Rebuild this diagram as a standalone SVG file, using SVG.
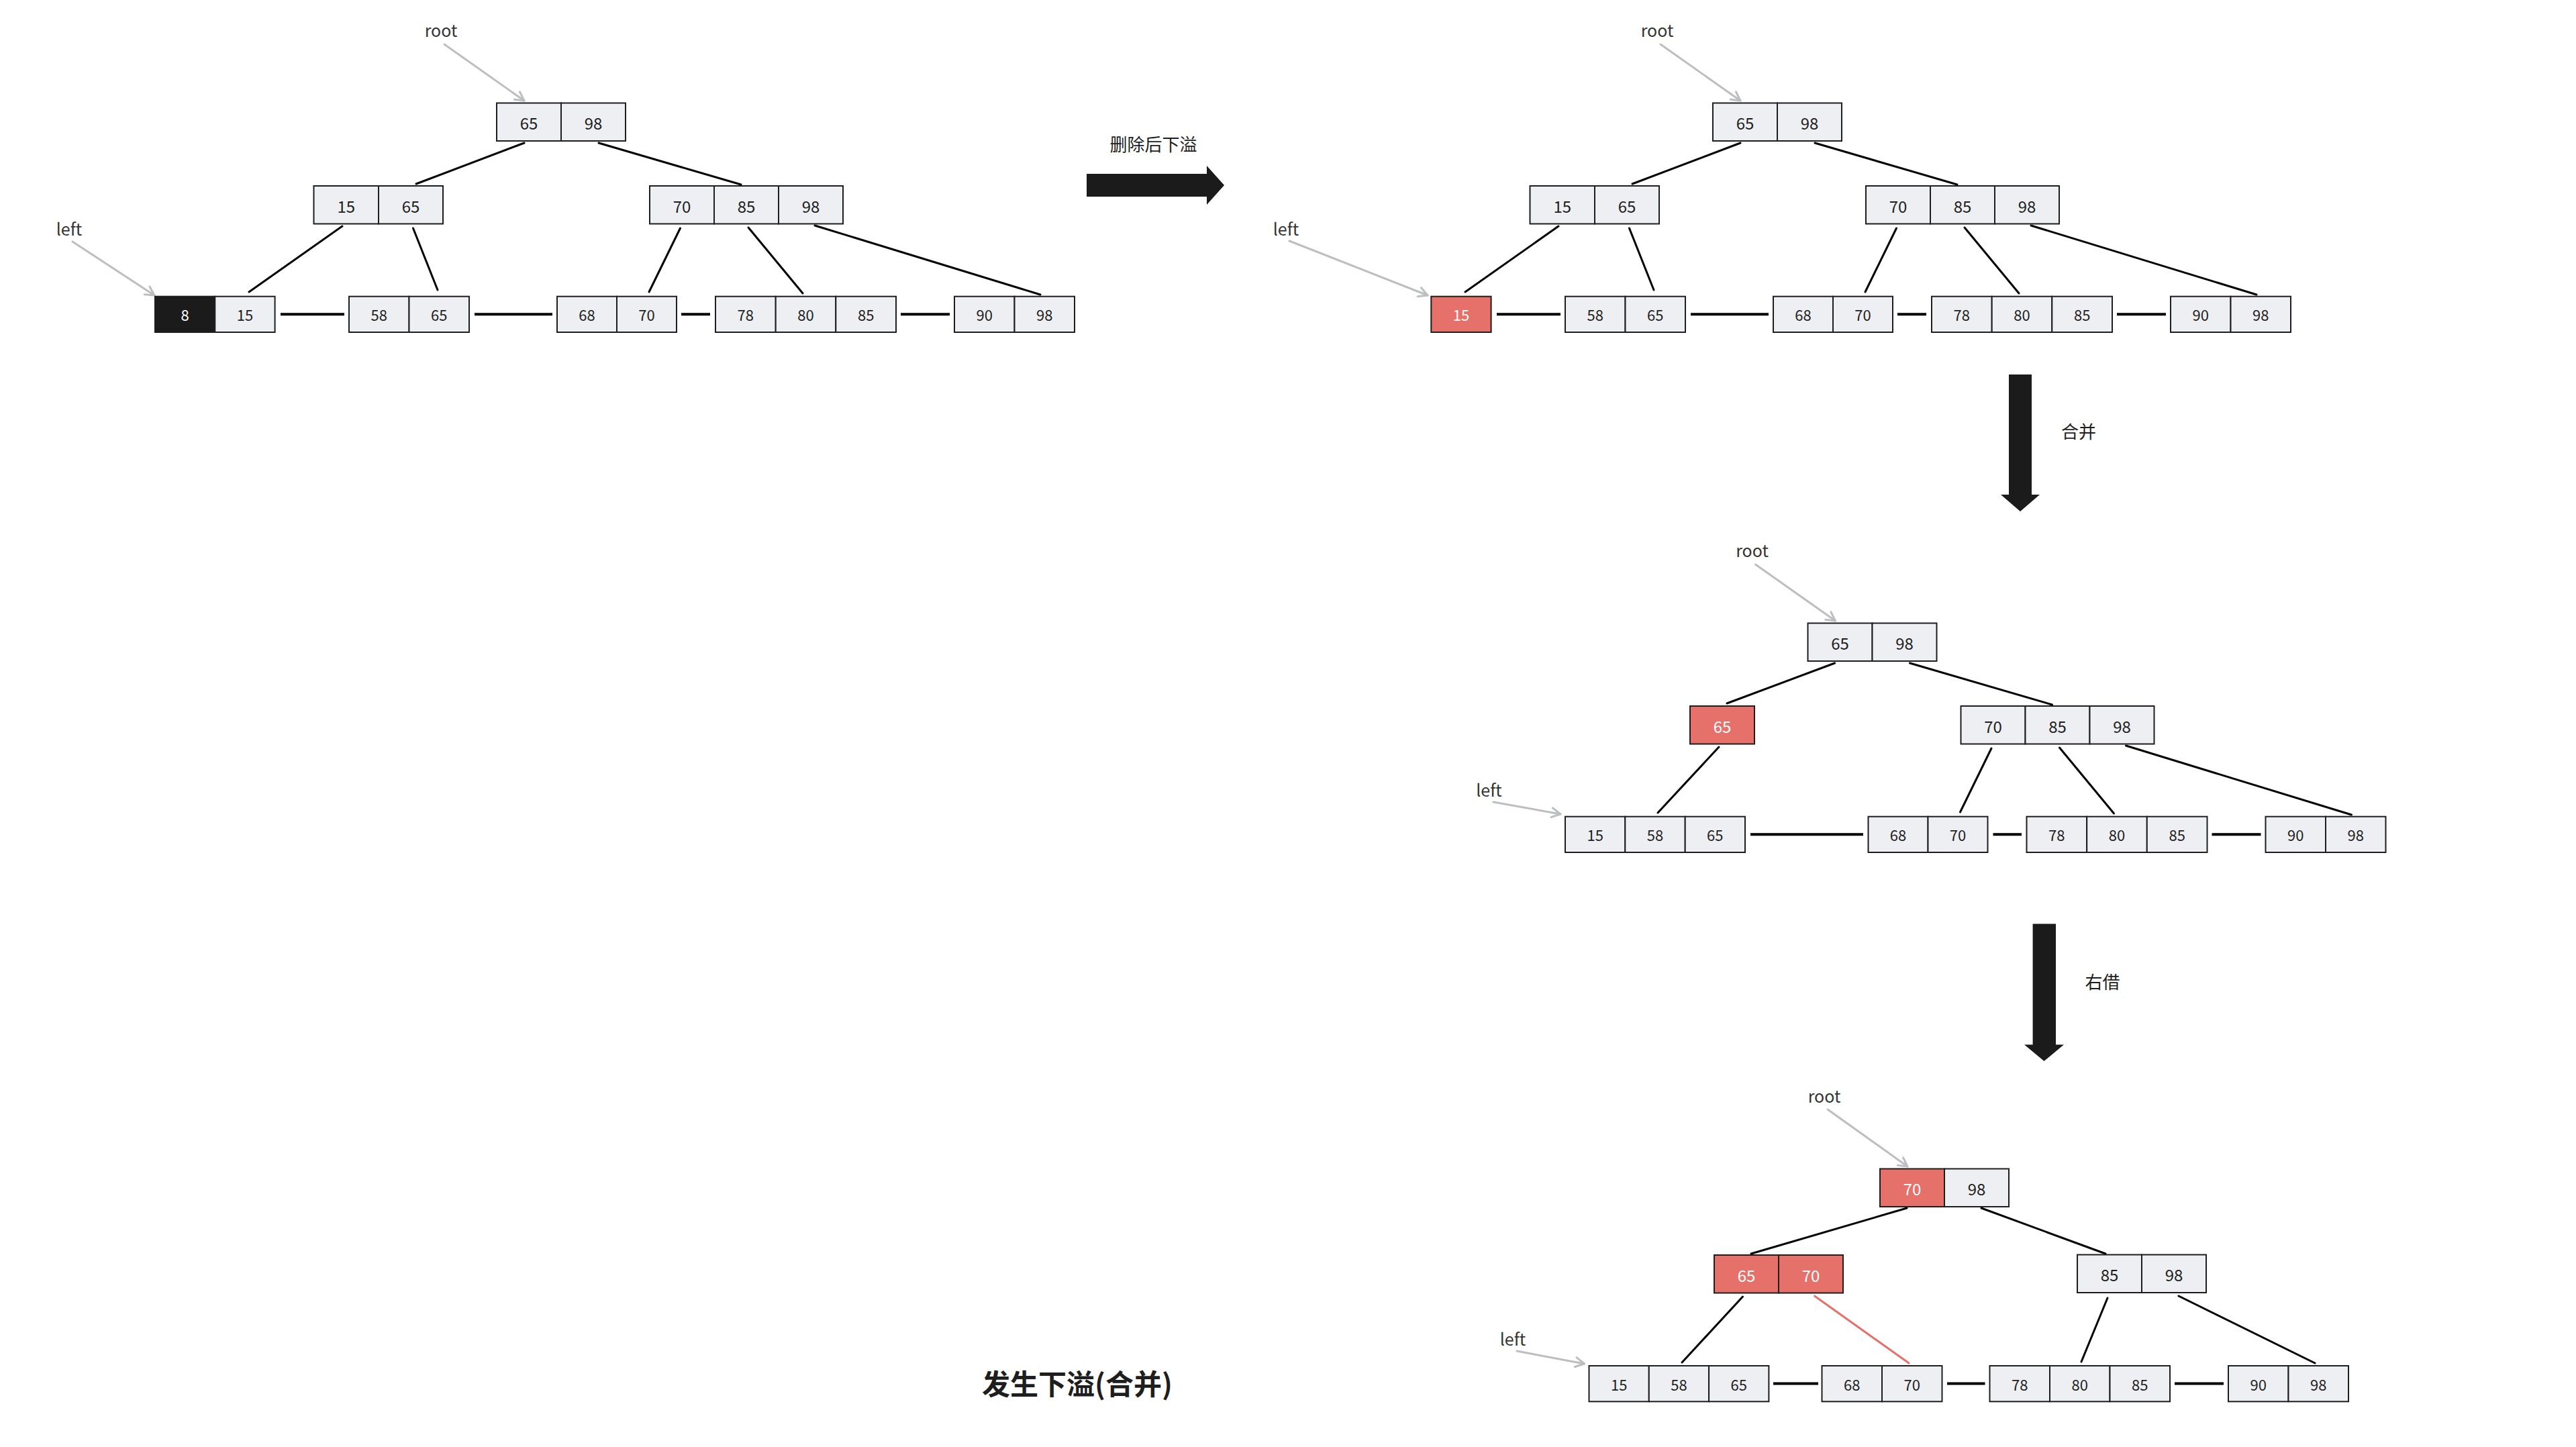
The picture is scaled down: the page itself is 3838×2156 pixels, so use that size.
<svg xmlns="http://www.w3.org/2000/svg" width="3838" height="2156" viewBox="0 0 3838 2156">
<style>
text{font-family:"Noto Sans CJK SC","Noto Sans",sans-serif;}
.c{fill:#eeeff2;stroke:#1e1e1e;stroke-width:2}
.r{fill:#e5716a;stroke:#1e1e1e;stroke-width:2}
.k{fill:#1b1b1b;stroke:#1e1e1e;stroke-width:2}
.n{font-size:24px;fill:#1e1e1e;text-anchor:middle}
.l{font-size:22px;fill:#1e1e1e;text-anchor:middle}
.w{fill:#ffffff}
.lab{font-size:25px;fill:#333333;text-anchor:middle}
.cap{font-size:26px;fill:#1e1e1e;text-anchor:middle}
.e{stroke:#000;stroke-width:3;stroke-linecap:round;fill:none}
.er{stroke:#e5716a;stroke-width:3;stroke-linecap:round;fill:none}
.ln{stroke:#000;stroke-width:4;fill:none}
.p{stroke:#bcbec1;stroke-width:3;stroke-linecap:round;fill:none;marker-end:url(#ga)}
.big{fill:#1b1b1b}
</style>
<defs>
<marker id="ga" viewBox="0 0 20 20" refX="17" refY="10" markerWidth="20" markerHeight="20" orient="auto" markerUnits="userSpaceOnUse">
<path d="M4,3 L17,10 L4,17" fill="none" stroke="#bcbec1" stroke-width="3" stroke-linecap="round" stroke-linejoin="round"/>
</marker>
</defs>
<rect width="3838" height="2156" fill="#ffffff"/>

<g id="connectors">
<!-- tree 1 -->
<line class="e" x1="781" y1="213" x2="620" y2="274"/>
<line class="e" x1="892" y1="213" x2="1104" y2="275"/>
<line class="e" x1="510" y1="337" x2="371" y2="435"/>
<line class="e" x1="615.5" y1="340" x2="652" y2="432"/>
<line class="e" x1="1013.5" y1="340" x2="967" y2="435"/>
<line class="e" x1="1115" y1="339" x2="1196" y2="437"/>
<line class="e" x1="1214" y1="336" x2="1550" y2="439"/>
<line class="ln" x1="418" y1="468.3" x2="513" y2="468.3"/>
<line class="ln" x1="707" y1="468.3" x2="823" y2="468.3"/>
<line class="ln" x1="1015" y1="468.3" x2="1058" y2="468.3"/>
<line class="ln" x1="1342" y1="468.3" x2="1415" y2="468.3"/>
<line class="p" x1="662" y1="66" x2="781" y2="150"/>
<line class="p" x1="108" y1="360" x2="230" y2="440"/>
<!-- tree 2 -->
<line class="e" x1="2593" y1="213" x2="2432" y2="274"/>
<line class="e" x1="2704" y1="213" x2="2916" y2="275"/>
<line class="e" x1="2322" y1="337" x2="2183" y2="435"/>
<line class="e" x1="2427.5" y1="340" x2="2464" y2="432"/>
<line class="e" x1="2825.5" y1="340" x2="2779" y2="435"/>
<line class="e" x1="2927" y1="339" x2="3008" y2="437"/>
<line class="e" x1="3026" y1="336" x2="3362" y2="439"/>
<line class="ln" x1="2230" y1="468.3" x2="2325" y2="468.3"/>
<line class="ln" x1="2519" y1="468.3" x2="2635" y2="468.3"/>
<line class="ln" x1="2827" y1="468.3" x2="2870" y2="468.3"/>
<line class="ln" x1="3154" y1="468.3" x2="3227" y2="468.3"/>
<line class="p" x1="2474" y1="66" x2="2593" y2="150"/>
<line class="p" x1="1921" y1="359" x2="2127" y2="440"/>
<!-- tree 3 -->
<line class="e" x1="2733.6" y1="988" x2="2573" y2="1048"/>
<line class="e" x1="2845.5" y1="988" x2="3057.5" y2="1050"/>
<line class="e" x1="2561" y1="1113" x2="2470" y2="1211"/>
<line class="e" x1="2967" y1="1115" x2="2920.5" y2="1210"/>
<line class="e" x1="3068.5" y1="1114" x2="3149.5" y2="1212"/>
<line class="e" x1="3167.5" y1="1111" x2="3503.5" y2="1214"/>
<line class="ln" x1="2608" y1="1243.3" x2="2776" y2="1243.3"/>
<line class="ln" x1="2969.5" y1="1243.3" x2="3012" y2="1243.3"/>
<line class="ln" x1="3295.5" y1="1243.3" x2="3368.5" y2="1243.3"/>
<line class="p" x1="2615.5" y1="841" x2="2734.5" y2="925"/>
<line class="p" x1="2225" y1="1195" x2="2325" y2="1213"/>
<!-- tree 4 -->
<line class="e" x1="2841" y1="1800" x2="2609" y2="1868"/>
<line class="e" x1="2952" y1="1800" x2="3137" y2="1868"/>
<line class="e" x1="2596.5" y1="1932" x2="2506" y2="2030"/>
<line class="er" x1="2703.6" y1="1931" x2="2844" y2="2031"/>
<line class="e" x1="3140" y1="1934" x2="3101" y2="2029"/>
<line class="e" x1="3246" y1="1931" x2="3449" y2="2031"/>
<line class="ln" x1="2642" y1="2061.5" x2="2709" y2="2061.5"/>
<line class="ln" x1="2901" y1="2061.5" x2="2957.5" y2="2061.5"/>
<line class="ln" x1="3240" y1="2061.5" x2="3313" y2="2061.5"/>
<line class="p" x1="2723" y1="1653" x2="2842" y2="1738"/>
<line class="p" x1="2260" y1="2013" x2="2360.5" y2="2032"/>
<!-- big step arrows -->
<polygon class="big" points="1619,259 1798,259 1798,247 1824,276 1798,305 1798,293 1619,293"/>
<polygon class="big" points="2993,558 3027,558 3027,737 3039,737 3010,762 2981,737 2993,737"/>
<polygon class="big" points="3028.6,1376.5 3063,1376.5 3063,1556.6 3075,1556.6 3045.5,1581 3016,1556.6 3028.6,1556.6"/>
</g>

<g id="labels">
<text class="lab" x="657" y="55">root</text>
<text class="lab" x="103" y="351">left</text>
<text class="lab" x="2469" y="55">root</text>
<text class="lab" x="1916" y="351">left</text>
<text class="lab" x="2610.5" y="830">root</text>
<text class="lab" x="2218.5" y="1187">left</text>
<text class="lab" x="2718" y="1643">root</text>
<text class="lab" x="2254" y="2005">left</text>
<text class="cap" x="1718.5" y="225">删除后下溢</text>
<text class="cap" x="3097" y="653">合并</text>
<text class="cap" x="3132.6" y="1473">右借</text>
<text x="1605" y="2078" font-size="42" font-weight="bold" fill="#1e1e1e" text-anchor="middle">发生下溢(合并)</text>
</g>

<!-- Tree 1 -->
<g id="t1-root">
<rect class="c" x="740" y="153.5" width="96" height="56.5"/><rect class="c" x="836" y="153.5" width="96" height="56.5"/>
<text class="n" x="788" y="193">65</text><text class="n" x="884" y="193">98</text>
</g>
<g id="t1-a">
<rect class="c" x="467.5" y="277" width="96.5" height="56.5"/><rect class="c" x="564" y="277" width="96" height="56.5"/>
<text class="n" x="515.7" y="316.5">15</text><text class="n" x="612" y="316.5">65</text>
</g>
<g id="t1-b">
<rect class="c" x="968" y="277" width="96" height="56.5"/><rect class="c" x="1064" y="277" width="96" height="56.5"/><rect class="c" x="1160" y="277" width="96" height="56.5"/>
<text class="n" x="1016" y="316.5">70</text><text class="n" x="1112" y="316.5">85</text><text class="n" x="1208" y="316.5">98</text>
</g>
<g id="t1-l1">
<rect class="k" x="231" y="441.7" width="89.3" height="53.3"/><rect class="c" x="320.3" y="441.7" width="89.3" height="53.3"/>
<text class="l w" x="275.6" y="478.4">8</text><text class="l" x="365" y="478.4">15</text>
</g>
<g id="t1-l2">
<rect class="c" x="520" y="441.7" width="89.5" height="53.3"/><rect class="c" x="609.5" y="441.7" width="89.5" height="53.3"/>
<text class="l" x="564.8" y="478.4">58</text><text class="l" x="654.3" y="478.4">65</text>
</g>
<g id="t1-l3">
<rect class="c" x="830" y="441.7" width="89" height="53.3"/><rect class="c" x="919" y="441.7" width="89" height="53.3"/>
<text class="l" x="874.5" y="478.4">68</text><text class="l" x="963.5" y="478.4">70</text>
</g>
<g id="t1-l4">
<rect class="c" x="1066" y="441.7" width="89.7" height="53.3"/><rect class="c" x="1155.7" y="441.7" width="89.6" height="53.3"/><rect class="c" x="1245.3" y="441.7" width="89.7" height="53.3"/>
<text class="l" x="1110.8" y="478.4">78</text><text class="l" x="1200.5" y="478.4">80</text><text class="l" x="1290.2" y="478.4">85</text>
</g>
<g id="t1-l5">
<rect class="c" x="1422" y="441.7" width="89.5" height="53.3"/><rect class="c" x="1511.5" y="441.7" width="89.5" height="53.3"/>
<text class="l" x="1466.8" y="478.4">90</text><text class="l" x="1556.3" y="478.4">98</text>
</g>

<!-- Tree 2 -->
<g id="t2-root">
<rect class="c" x="2552" y="153.5" width="96" height="56.5"/><rect class="c" x="2648" y="153.5" width="96" height="56.5"/>
<text class="n" x="2600" y="193">65</text><text class="n" x="2696" y="193">98</text>
</g>
<g id="t2-a">
<rect class="c" x="2279.5" y="277" width="96.5" height="56.5"/><rect class="c" x="2376" y="277" width="96" height="56.5"/>
<text class="n" x="2327.7" y="316.5">15</text><text class="n" x="2424" y="316.5">65</text>
</g>
<g id="t2-b">
<rect class="c" x="2780" y="277" width="96" height="56.5"/><rect class="c" x="2876" y="277" width="96" height="56.5"/><rect class="c" x="2972" y="277" width="96" height="56.5"/>
<text class="n" x="2828" y="316.5">70</text><text class="n" x="2924" y="316.5">85</text><text class="n" x="3020" y="316.5">98</text>
</g>
<g id="t2-l1">
<rect class="r" x="2132.3" y="441.7" width="89.3" height="53.3"/>
<text class="l w" x="2177" y="478.4">15</text>
</g>
<g id="t2-l2">
<rect class="c" x="2332" y="441.7" width="89.5" height="53.3"/><rect class="c" x="2421.5" y="441.7" width="89.5" height="53.3"/>
<text class="l" x="2376.8" y="478.4">58</text><text class="l" x="2466.3" y="478.4">65</text>
</g>
<g id="t2-l3">
<rect class="c" x="2642" y="441.7" width="89" height="53.3"/><rect class="c" x="2731" y="441.7" width="89" height="53.3"/>
<text class="l" x="2686.5" y="478.4">68</text><text class="l" x="2775.5" y="478.4">70</text>
</g>
<g id="t2-l4">
<rect class="c" x="2878" y="441.7" width="89.7" height="53.3"/><rect class="c" x="2967.7" y="441.7" width="89.6" height="53.3"/><rect class="c" x="3057.3" y="441.7" width="89.7" height="53.3"/>
<text class="l" x="2922.8" y="478.4">78</text><text class="l" x="3012.5" y="478.4">80</text><text class="l" x="3102.2" y="478.4">85</text>
</g>
<g id="t2-l5">
<rect class="c" x="3234" y="441.7" width="89.5" height="53.3"/><rect class="c" x="3323.5" y="441.7" width="89.5" height="53.3"/>
<text class="l" x="3278.8" y="478.4">90</text><text class="l" x="3368.3" y="478.4">98</text>
</g>

<!-- Tree 3 -->
<g id="t3-root">
<rect class="c" x="2693.5" y="928.5" width="96" height="56.5"/><rect class="c" x="2789.5" y="928.5" width="96" height="56.5"/>
<text class="n" x="2741.5" y="968">65</text><text class="n" x="2837.5" y="968">98</text>
</g>
<g id="t3-a">
<rect class="r" x="2518" y="1052" width="96" height="56.5"/>
<text class="n w" x="2566" y="1091.5">65</text>
</g>
<g id="t3-b">
<rect class="c" x="2921.5" y="1052" width="96" height="56.5"/><rect class="c" x="3017.5" y="1052" width="96" height="56.5"/><rect class="c" x="3113.5" y="1052" width="96" height="56.5"/>
<text class="n" x="2969.5" y="1091.5">70</text><text class="n" x="3065.5" y="1091.5">85</text><text class="n" x="3161.5" y="1091.5">98</text>
</g>
<g id="t3-l1">
<rect class="c" x="2332" y="1216.7" width="89.3" height="53.3"/><rect class="c" x="2421.3" y="1216.7" width="89.4" height="53.3"/><rect class="c" x="2510.7" y="1216.7" width="89.3" height="53.3"/>
<text class="l" x="2376.7" y="1253.4">15</text><text class="l" x="2466" y="1253.4">58</text><text class="l" x="2555.3" y="1253.4">65</text>
</g>
<g id="t3-l3">
<rect class="c" x="2783.5" y="1216.7" width="89" height="53.3"/><rect class="c" x="2872.5" y="1216.7" width="89" height="53.3"/>
<text class="l" x="2828" y="1253.4">68</text><text class="l" x="2917" y="1253.4">70</text>
</g>
<g id="t3-l4">
<rect class="c" x="3019.5" y="1216.7" width="89.7" height="53.3"/><rect class="c" x="3109.2" y="1216.7" width="89.6" height="53.3"/><rect class="c" x="3198.8" y="1216.7" width="89.7" height="53.3"/>
<text class="l" x="3064.3" y="1253.4">78</text><text class="l" x="3154" y="1253.4">80</text><text class="l" x="3243.7" y="1253.4">85</text>
</g>
<g id="t3-l5">
<rect class="c" x="3375.5" y="1216.7" width="89.5" height="53.3"/><rect class="c" x="3465" y="1216.7" width="89.5" height="53.3"/>
<text class="l" x="3420.3" y="1253.4">90</text><text class="l" x="3509.8" y="1253.4">98</text>
</g>

<!-- Tree 4 -->
<g id="t4-root">
<rect class="r" x="2801" y="1741.5" width="96" height="56.5"/><rect class="c" x="2897" y="1741.5" width="96" height="56.5"/>
<text class="n w" x="2849" y="1781">70</text><text class="n" x="2945" y="1781">98</text>
</g>
<g id="t4-a">
<rect class="r" x="2554" y="1870" width="96" height="56.5"/><rect class="r" x="2650" y="1870" width="96" height="56.5"/>
<text class="n w" x="2602" y="1909.5">65</text><text class="n w" x="2698" y="1909.5">70</text>
</g>
<g id="t4-b">
<rect class="c" x="3095" y="1869.5" width="96" height="56.5"/><rect class="c" x="3191" y="1869.5" width="96" height="56.5"/>
<text class="n" x="3143" y="1909">85</text><text class="n" x="3239" y="1909">98</text>
</g>
<g id="t4-l1">
<rect class="c" x="2367.5" y="2035" width="89.3" height="53.3"/><rect class="c" x="2456.8" y="2035" width="89.3" height="53.3"/><rect class="c" x="2546.1" y="2035" width="89.3" height="53.3"/>
<text class="l" x="2412.2" y="2071.7">15</text><text class="l" x="2501.5" y="2071.7">58</text><text class="l" x="2590.8" y="2071.7">65</text>
</g>
<g id="t4-l2">
<rect class="c" x="2714.5" y="2035" width="89.5" height="53.3"/><rect class="c" x="2804" y="2035" width="89.5" height="53.3"/>
<text class="l" x="2759.3" y="2071.7">68</text><text class="l" x="2848.8" y="2071.7">70</text>
</g>
<g id="t4-l3">
<rect class="c" x="2964.5" y="2035" width="89.5" height="53.3"/><rect class="c" x="3054" y="2035" width="89.5" height="53.3"/><rect class="c" x="3143.5" y="2035" width="89.5" height="53.3"/>
<text class="l" x="3009.3" y="2071.7">78</text><text class="l" x="3098.8" y="2071.7">80</text><text class="l" x="3188.3" y="2071.7">85</text>
</g>
<g id="t4-l4">
<rect class="c" x="3320" y="2035" width="89.5" height="53.3"/><rect class="c" x="3409.5" y="2035" width="89.5" height="53.3"/>
<text class="l" x="3364.8" y="2071.7">90</text><text class="l" x="3454.3" y="2071.7">98</text>
</g>
</svg>
